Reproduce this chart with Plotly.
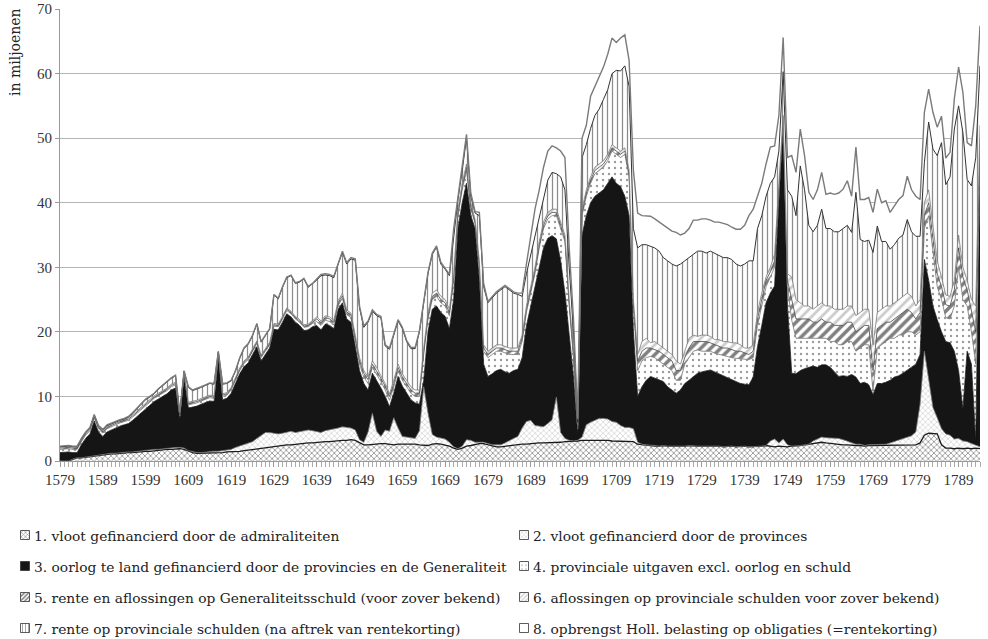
import plotly.graph_objects as go

years = list(range(1579, 1795))

# 1. vloot gefinancierd door de admiraliteiten
vloot_admiraliteiten = [
    0, 0, 0, 0.3, 0.5, 0.5, 0.6, 0.7, 0.8, 0.9,
    1.0, 1.0, 1.1, 1.1, 1.2, 1.2, 1.3, 1.3, 1.4, 1.4,
    1.5, 1.5, 1.6, 1.6, 1.7, 1.8, 1.8, 1.9, 1.9, 1.8,
    1.5, 1.3, 1.2, 1.2, 1.2, 1.2, 1.3, 1.3, 1.3, 1.4,
    1.4, 1.5, 1.5, 1.6, 1.7, 1.8, 1.9, 2.0, 2.1, 2.2,
    2.3, 2.3, 2.4, 2.5, 2.5, 2.6, 2.7, 2.7, 2.8, 2.8,
    2.9, 2.9, 3.0, 3.0, 3.1, 3.1, 3.2, 3.2, 3.3, 3.2,
    2.8, 2.5, 2.5, 2.6, 2.6, 2.7, 2.7, 2.6, 2.5, 2.6,
    2.6, 2.7, 2.7, 2.6, 2.5, 2.5, 2.4, 2.6, 2.7, 2.6,
    2.5, 2.3, 2.0, 1.8, 2.0, 2.3, 2.4, 2.6, 2.7, 2.7,
    2.5, 2.3, 2.2, 2.2, 2.3, 2.4, 2.5, 2.6, 2.6, 2.6,
    2.7, 2.7, 2.8, 2.8, 2.8, 2.9, 2.9, 2.9, 3.0, 3.0,
    3.0, 3.1, 3.2, 3.2, 3.2, 3.3, 3.3, 3.2, 3.2, 3.1,
    3.1, 3.0, 3.0, 3.0, 3.0, 2.6, 2.5, 2.4, 2.4, 2.3,
    2.3, 2.4, 2.3, 2.3, 2.2, 2.3, 2.3, 2.4, 2.3, 2.3,
    2.3, 2.3, 2.4, 2.3, 2.3, 2.2, 2.3, 2.3, 2.2, 2.3,
    2.3, 2.2, 2.2, 2.3, 2.3, 2.4, 2.3, 2.2, 2.3, 2.2,
    2.2, 2.3, 2.3, 2.4, 2.5, 2.6, 2.8, 2.8, 2.9, 2.8,
    2.7, 2.6, 2.6, 2.5, 2.5, 2.4, 2.4, 2.4, 2.3, 2.4,
    2.4, 2.4, 2.4, 2.4, 2.5, 2.5, 2.5, 2.4, 2.4, 2.4,
    2.5, 2.8, 4.0, 4.3, 4.3, 4.2, 2.5, 2.0, 2.0, 1.9,
    2.0, 1.9, 2.0, 1.9, 2.0, 1.9,
]

# 2. vloot gefinancierd door de provinces
vloot_provincies = [
    0, 0, 0, 0, 0, 0, 0, 0, 0, 0,
    0.1, 0.1, 0.1, 0.1, 0.1, 0.1, 0.1, 0.1, 0.1, 0.1,
    0.2, 0.2, 0.2, 0.2, 0.2, 0.2, 0.2, 0.2, 0.2, 0.2,
    0.1, 0.1, 0.1, 0.1, 0.2, 0.2, 0.2, 0.2, 0.3, 0.3,
    0.4, 0.6, 0.8, 1.0, 1.1, 1.2, 1.6, 1.9, 2.3, 2.2,
    2.0, 1.9, 1.9, 2.0, 2.1, 1.8, 1.8, 1.9, 2.0, 1.9,
    1.6, 1.5, 1.7, 1.8, 1.8, 2.0, 2.1, 2.0, 1.8, 1.6,
    0.5, 0.4, 2.0, 4.8, 2.0, 1.1, 2.1, 2.0, 4.2, 2.5,
    1.2, 1.0, 0.9, 0.9, 2.2, 9.0, 5.0, 1.5, 1.0, 0.9,
    0.9, 0.6, 0.2, 0.1, 0.3, 1.0, 0.8, 0.3, 0.2, 0.2,
    0.2, 0.2, 0.3, 0.3, 0.5, 0.8, 1.0, 1.2, 2.5, 3.5,
    3.6, 2.8, 2.6, 2.5, 3.0, 3.5, 7.0, 1.5, 0.5, 0.2,
    0.1, 0.1, 0.5, 2.4, 2.8, 3.0, 3.3, 3.4, 3.3, 3.0,
    2.9, 2.5, 2.2, 2.2, 2.0, 0.3, 0.1, 0.1, 0.1, 0.1,
    0, 0, 0, 0, 0, 0, 0, 0, 0, 0,
    0, 0, 0, 0, 0, 0, 0, 0, 0, 0,
    0, 0, 0, 0, 0, 0, 0.8, 1.2, 0.5, 1.2,
    0.3, 0, 0, 0, 0, 0, 0.3, 0.6, 0.8, 0.8,
    0.9, 1.0, 0.9, 0.8, 0.6, 0.4, 0.2, 0.2, 0.1, 0.1,
    0.1, 0.1, 0.1, 0.2, 0.3, 0.5, 0.8, 1.0, 1.3, 1.5,
    2.0, 6.0, 13.0, 8.0, 4.0, 2.5, 2.5, 2.2, 2.0, 1.5,
    1.5, 1.2, 1.0, 0.8, 0.5, 0.3,
]

# 3. oorlog te land gefinancierd door de provincies en de Generaliteit
oorlog_te_land = [
    1.3, 1.4, 1.4, 1.0, 0.8, 2.0, 2.9, 3.5, 5.4, 3.6,
    2.7, 3.4, 3.6, 4.0, 4.1, 4.3, 4.4, 4.9, 5.4, 6.0,
    6.3, 7.0, 7.4, 7.8, 8.1, 8.4, 9.0, 9.2, 4.4, 11.0,
    6.6, 6.9, 7.2, 7.5, 7.6, 7.9, 7.7, 14.5, 7.9, 8.0,
    8.7, 9.9, 11.2, 12.0, 12.4, 13.5, 14.2, 11.6, 12.1, 13.1,
    16.1, 16.1, 17.2, 18.3, 17.7, 17.1, 16.5, 15.6, 15.5, 16.1,
    16.5, 15.9, 16.5, 16.2, 15.6, 18.4, 19.2, 16.8, 16.4, 13.2,
    10.7, 9.1, 6.5, 6.2, 7.9, 7.5, 5.2, 3.8, 3.8, 8.0,
    7.8, 6.8, 5.9, 5.5, 4.1, 1.0, 12.6, 19.4, 20.3, 19.5,
    19.0, 17.6, 22.8, 34.1, 37.7, 39.7, 34.8, 33.1, 25.1, 12.1,
    10.4, 11.0, 11.5, 11.7, 11.0, 10.4, 10.5, 10.4, 10.9, 14.8,
    17.7, 21.1, 24.6, 27.7, 28.7, 28.5, 24.5, 26.6, 22.5, 15.8,
    9.9, 0.8, 31.3, 32.4, 34.0, 34.7, 34.9, 35.4, 36.5, 37.9,
    37.0, 37.0, 35.8, 32.8, 15.0, 7.1, 8.9, 10.0, 10.6, 10.4,
    10.2, 9.9, 9.2, 8.7, 8.3, 8.7, 9.7, 10.1, 10.7, 11.3,
    11.5, 11.7, 11.7, 11.5, 11.2, 10.9, 10.5, 10.2, 10.1, 9.7,
    9.6, 9.6, 10.8, 15.4, 18.7, 22.1, 22.9, 23.7, 37.2, 48.6,
    21.5, 11.3, 11.2, 11.6, 11.8, 11.9, 11.6, 11.1, 11.2, 11.3,
    10.9, 10.2, 9.6, 9.9, 10.0, 10.6, 10.4, 9.4, 9.8, 9.3,
    7.8, 9.5, 9.5, 9.6, 9.7, 10.0, 9.9, 10.2, 10.4, 10.6,
    10.5, 7.7, 14.2, 15.7, 15.7, 15.2, 15.0, 14.3, 14.3, 13.6,
    10.5, 4.9, 14.0, 12.3, 0.5, 42.8,
]

# 4. provinciale uitgaven excl. oorlog en schuld
provinciale_uitgaven = [
    0.5, 0.5, 0.5, 0.5, 0.5, 0.5, 0.5, 0.5, 0.5, 0.5,
    0.5, 0.5, 0.5, 0.5, 0.5, 0.5, 0.5, 0.5, 0.5, 0.5,
    0.5, 0.5, 0.5, 0.5, 0.5, 0.5, 0.5, 0.5, 0.5, 0.5,
    0.5, 0.5, 0.5, 0.5, 0.5, 0.5, 0.5, 0.5, 0.5, 0.5,
    0.5, 0.5, 0.5, 0.5, 0.5, 0.5, 0.5, 0.5, 0.5, 0.5,
    0.5, 0.5, 0.5, 0.5, 0.5, 0.5, 0.5, 0.5, 0.5, 0.5,
    0.6, 0.7, 0.6, 0.6, 0.6, 0.6, 0.7, 0.7, 0.7, 0.7,
    1.0, 1.0, 1.0, 0.9, 1.0, 1.0, 1.0, 1.0, 1.0, 0.9,
    0.9, 1.0, 1.0, 1.0, 1.2, 4.0, 2.0, 1.5, 1.5, 1.5,
    1.6, 2.0, 3.0, 2.0, 2.0, 2.0, 1.0, 0.8, 2.0, 2.0,
    2.9, 3.0, 3.0, 2.8, 3.0, 2.9, 2.5, 2.3, 2.5, 2.1,
    2.0, 2.4, 3.0, 3.0, 3.0, 3.1, 3.6, 5.0, 8.0, 5.0,
    3.0, 1.0, 3.0, 3.0, 3.0, 3.5, 3.5, 3.5, 3.5, 4.0,
    4.5, 4.5, 6.5, 6.0, 4.0, 4.0, 4.0, 3.5, 3.1, 3.2,
    3.0, 2.7, 3.0, 3.0, 2.0, 1.5, 3.0, 3.5, 4.0, 3.6,
    3.2, 3.0, 2.9, 2.9, 3.0, 3.2, 3.4, 3.5, 3.6, 3.8,
    3.8, 3.9, 3.0, 3.3, 3.0, 2.5, 2.5, 2.9, 2.0, 1.0,
    3.0, 8.2, 5.5, 5.0, 4.7, 4.5, 4.3, 4.5, 4.1, 4.1,
    4.0, 4.7, 4.9, 4.8, 5.4, 5.1, 4.0, 5.5, 5.8, 6.2,
    0.5, 5.5, 6.0, 6.3, 6.5, 6.0, 6.3, 5.9, 5.9, 5.5,
    4.5, 3.5, 4.8, 10.0, 8.0, 5.1, 5.0, 3.7, 3.7, 7.0,
    16.0, 17.0, 7.0, 5.0, 12.0, 3.0,
]

# 5. rente en aflossingen op Generaliteitsschuld
generaliteitsschuld = [
    0.2, 0.2, 0.2, 0.2, 0.2, 0.2, 0.2, 0.2, 0.2, 0.2,
    0.2, 0.2, 0.2, 0.2, 0.2, 0.2, 0.2, 0.2, 0.2, 0.2,
    0.2, 0.2, 0.2, 0.2, 0.2, 0.2, 0.2, 0.2, 0.2, 0.2,
    0.2, 0.2, 0.2, 0.2, 0.2, 0.2, 0.2, 0.2, 0.2, 0.2,
    0.2, 0.2, 0.2, 0.2, 0.2, 0.2, 0.2, 0.2, 0.2, 0.2,
    0.2, 0.2, 0.2, 0.2, 0.2, 0.2, 0.2, 0.2, 0.2, 0.2,
    0.4, 0.4, 0.4, 0.4, 0.4, 0.4, 0.4, 0.4, 0.4, 0.4,
    0.5, 0.6, 0.6, 0.5, 0.5, 0.5, 0.6, 0.6, 0.5, 0.5,
    0.5, 0.5, 0.5, 0.5, 0.5, 0.5, 0.5, 0.5, 0.5, 0.5,
    0.5, 0.5, 0.5, 0.5, 0.5, 0.5, 0.5, 0.3, 0.5, 0.5,
    0.5, 0.5, 0.5, 0.5, 0.5, 0.5, 0.5, 0.5, 0.5, 0.5,
    0.5, 0.5, 0.5, 0.5, 0.5, 0.5, 0.5, 0.5, 0.5, 0.5,
    0.5, 0.2, 0.5, 0.5, 0.5, 0.5, 0.5, 0.5, 0.5, 0.5,
    0.5, 0.5, 0.5, 0.5, 0.5, 1.5, 1.5, 1.5, 1.3, 1.3,
    1.5, 1.5, 1.5, 1.5, 1.5, 1.5, 1.0, 1.5, 1.5, 1.3,
    1.5, 1.5, 1.3, 1.3, 1.3, 1.2, 1.3, 1.3, 1.1, 1.2,
    1.1, 0.8, 1.0, 1.0, 1.0, 1.0, 0.8, 1.0, 0.5, 0.3,
    1.0, 3.2, 3.0, 3.0, 3.0, 3.0, 2.5, 2.5, 3.0, 2.5,
    3.0, 2.5, 3.0, 3.0, 3.0, 3.0, 3.0, 3.0, 3.0, 3.0,
    3.2, 3.0, 3.0, 3.0, 2.5, 3.0, 3.0, 3.5, 3.5, 3.0,
    2.5, 3.0, 2.0, 2.0, 2.5, 2.0, 2.0, 2.0, 2.0, 2.5,
    3.0, 3.5, 2.5, 3.0, 5.0, 2.0,
]

# 6. aflossingen op provinciale schulden
aflossingen_provinciaal = [
    0.2, 0.2, 0.2, 0.2, 0.2, 0.2, 0.2, 0.2, 0.2, 0.2,
    0.2, 0.2, 0.2, 0.2, 0.2, 0.2, 0.2, 0.2, 0.2, 0.2,
    0.2, 0.2, 0.2, 0.2, 0.2, 0.2, 0.2, 0.2, 0.2, 0.2,
    0.2, 0.2, 0.2, 0.2, 0.2, 0.2, 0.2, 0.2, 0.2, 0.2,
    0.2, 0.2, 0.2, 0.2, 0.2, 0.2, 0.2, 0.2, 0.2, 0.2,
    0.2, 0.2, 0.2, 0.2, 0.2, 0.2, 0.2, 0.2, 0.2, 0.2,
    0.3, 0.3, 0.3, 0.3, 0.3, 0.3, 0.4, 0.3, 0.3, 0.4,
    0.5, 0.4, 0.4, 0.5, 0.5, 0.4, 0.4, 0.4, 0.5, 0.5,
    0.5, 0.5, 0.5, 0.5, 0.5, 0.5, 0.5, 0.5, 0.5, 0.5,
    0.5, 0.5, 0.5, 0.5, 0.5, 0.5, 0.5, 0.3, 0.5, 0.5,
    0.5, 0.5, 0.5, 0.5, 0.5, 0.5, 0.5, 0.5, 0.5, 0.5,
    0.5, 0.5, 0.5, 0.5, 0.5, 0.5, 0.5, 0.5, 0.5, 0.5,
    0.5, 0.3, 0.5, 0.5, 0.5, 0.5, 0.5, 0.5, 0.5, 0.5,
    0.5, 0.5, 0.5, 0.5, 0.5, 1.0, 1.5, 1.5, 0.8, 1.2,
    1.0, 1.0, 1.0, 1.0, 1.5, 1.0, 1.0, 1.5, 1.0, 0.8,
    1.0, 1.0, 1.0, 0.8, 1.0, 1.0, 1.0, 1.0, 1.3, 1.0,
    0.7, 1.0, 1.0, 1.0, 1.0, 0.5, 0.7, 1.0, 0.5, 0.2,
    1.0, 3.5, 3.0, 2.5, 2.0, 2.0, 2.0, 2.5, 2.5, 2.5,
    2.5, 2.5, 2.5, 2.5, 2.5, 2.5, 2.5, 2.5, 2.5, 2.5,
    4.0, 2.5, 2.5, 2.5, 2.5, 2.5, 2.5, 2.5, 2.5, 2.5,
    2.0, 2.0, 2.0, 2.0, 1.5, 2.0, 1.5, 1.5, 1.5, 1.5,
    2.0, 1.5, 1.5, 2.0, 4.0, 2.0,
]

# 7. rente op provinciale schulden (na aftrek van rentekorting)
rente_provinciaal = [
    0, 0, 0, 0, 0, 0, 0, 0, 0, 0,
    0.1, 0.1, 0.1, 0, 0, 0, 0.1, 0.2, 0.3, 0.4,
    0.6, 0.3, 0.3, 0.6, 0.8, 0.9, 0.9, 1.0, 0, 0,
    2.3, 1.7, 1.7, 1.7, 1.8, 1.8, 1.8, 0, 1.5, 1.4,
    1.0, 1.0, 1.5, 1.9, 2.0, 2.0, 2.6, 2.0, 2.0, 2.0,
    4.4, 3.9, 4.5, 4.7, 5.5, 5.1, 5.8, 7.1, 5.7, 5.7,
    5.7, 7.0, 6.3, 6.4, 6.6, 5.7, 6.3, 7.1, 8.4, 11.6,
    7.7, 6.7, 8.5, 7.7, 8.0, 9.0, 5.8, 6.9, 7.0, 6.7,
    7.0, 6.0, 5.9, 6.4, 9.0, 6.9, 6.0, 6.0, 6.6, 5.0,
    4.7, 5.2, 6.0, 1.5, 2.0, 4.0, 1.0, 1.0, 7.0, 9.0,
    7.5, 7.8, 8.0, 8.5, 9.2, 9.0, 8.5, 8.3, 6.0, 5.0,
    5.0, 5.0, 4.0, 4.0, 5.0, 5.7, 5.5, 7.0, 7.0, 5.0,
    3.0, 0.5, 8.0, 7.0, 7.5, 8.0, 8.5, 9.5, 10.0, 11.0,
    12.0, 12.4, 12.7, 13.0, 11.0, 16.5, 15.0, 14.5, 15.0, 14.5,
    14.5, 14.0, 14.0, 14.0, 14.7, 15.5, 14.0, 12.5, 12.5, 13.2,
    13.0, 12.7, 13.2, 13.4, 13.0, 13.0, 13.0, 12.9, 12.2, 12.2,
    13.0, 13.5, 13.0, 13.0, 12.0, 12.5, 13.0, 12.0, 5.0, 6.8,
    13.0, 12.5, 13.0, 21.2, 18.0, 12.5, 12.0, 12.5, 14.5, 12.0,
    12.0, 12.0, 12.0, 12.5, 12.5, 11.4, 19.1, 11.3, 10.5, 10.7,
    14.3, 13.4, 10.5, 10.0, 8.8, 9.0, 9.5, 9.5, 11.4, 10.0,
    10.8, 9.8, 6.2, 10.5, 12.3, 16.3, 20.8, 17.1, 18.5, 23.4,
    20.0, 20.9, 15.6, 17.6, 23.0, 9.2,
]

# 8. opbrengst Holl. belasting op obligaties (=rentekorting)
rentekorting = [
    0.1, 0.1, 0.1, 0.1, 0.1, 0.1, 0.1, 0.1, 0.1, 0.1,
    0.1, 0.1, 0.1, 0.1, 0.1, 0.1, 0.1, 0.1, 0.1, 0.1,
    0.1, 0.1, 0.1, 0.1, 0.1, 0.1, 0.1, 0.1, 0.1, 0.1,
    0.1, 0.1, 0.1, 0.1, 0.1, 0.1, 0.1, 0.1, 0.1, 0.1,
    0.1, 0.1, 0.1, 0.1, 0.1, 0.1, 0.1, 0.1, 0.1, 0.1,
    0.1, 0.1, 0.1, 0.1, 0.1, 0.1, 0.1, 0.1, 0.1, 0.1,
    0.2, 0.2, 0.2, 0.2, 0.2, 0.2, 0.2, 0.2, 0.2, 0.2,
    0.3, 0.2, 0.2, 0.2, 0.2, 0.2, 0.2, 0.2, 0.2, 0.2,
    0.2, 0.2, 0.2, 0.2, 0.2, 0.2, 0.2, 0.2, 0.2, 0.3,
    0.2, 0.2, 1.0, 0.5, 1.0, 0.6, 0.5, 0.2, 0.5, 0.5,
    0.2, 0.2, 0.2, 0.2, 0.2, 0.2, 0.2, 0.2, 0.5, 1.5,
    2.5, 4.0, 4.0, 4.5, 4.5, 4.1, 4.0, 4.0, 5.0, 3.0,
    2.0, 0.5, 3.0, 3.0, 5.0, 4.5, 5.0, 5.0, 5.5, 5.5,
    4.3, 5.1, 4.8, 4.0, 9.0, 5.4, 4.5, 4.5, 4.6, 4.5,
    4.5, 5.0, 5.0, 5.1, 5.2, 4.5, 4.3, 4.5, 5.3, 4.8,
    5.0, 5.3, 4.8, 4.8, 5.2, 5.3, 5.1, 5.0, 5.4, 5.7,
    6.0, 7.0, 8.0, 5.0, 5.0, 5.0, 5.6, 4.8, 5.5, 5.3,
    5.0, 6.3, 6.7, 5.7, 5.3, 5.1, 5.0, 5.5, 5.7, 5.3,
    5.5, 5.8, 6.0, 6.1, 6.9, 5.6, 7.0, 6.2, 6.5, 6.6,
    6.2, 5.7, 6.0, 6.3, 5.7, 6.0, 6.0, 6.1, 6.7, 6.5,
    6.2, 5.7, 7.8, 5.1, 5.7, 4.4, 4.1, 4.1, 3.8, 4.7,
    6.0, 6.2, 5.7, 6.2, 8.0, 6.2,
]

legend_labels = [
    "1. vloot gefinancierd door de admiraliteiten",
    "2. vloot gefinancierd door de provinces",
    "3. oorlog te land gefinancierd door de provincies en de Generaliteit",
    "4. provinciale uitgaven excl. oorlog en schuld",
    "5. rente en aflossingen op Generaliteitsschuld (voor zover bekend)",
    "6. aflossingen op provinciale schulden voor zover bekend)",
    "7. rente op provinciale schulden (na aftrek van rentekorting)",
    "8. opbrengst Holl. belasting op obligaties (=rentekorting)",
]

x_tick_years = [1579, 1589, 1599, 1609, 1619, 1629, 1639, 1649, 1659, 1669, 1679,
                1689, 1699, 1709, 1719, 1729, 1739, 1749, 1759, 1769, 1779, 1789]
y_ticks = [0, 10, 20, 30, 40, 50, 60, 70]

series = [vloot_admiraliteiten, vloot_provincies, oorlog_te_land, provinciale_uitgaven,
          generaliteitsschuld, aflossingen_provinciaal, rente_provinciaal, rentekorting]
for s in series:
    assert len(s) == len(years), len(s)

# styles (bottom -> top)
styles = [
    dict(pattern=dict(shape="x", fgcolor="#333", bgcolor="white", size=4, solidity=0.4),
         fill="white", line=dict(color="#1a1a1a", width=1.3)),
    dict(pattern=dict(shape="x", fgcolor="#9a9a9a", bgcolor="white", size=4, solidity=0.3),
         fill="white", line=dict(color="#777", width=0.8)),
    dict(pattern=None, fill="#151515", line=dict(color="#111", width=0.8)),
    dict(pattern=dict(shape=".", fgcolor="#333", bgcolor="white", size=6, solidity=0.12),
         fill="white", line=dict(color="#777", width=0.8)),
    dict(pattern=dict(shape="/", fgcolor="#000", bgcolor="white", size=7, solidity=0.5),
         fill="white", line=dict(color="#444", width=0.8)),
    dict(pattern=dict(shape="/", fgcolor="#999", bgcolor="white", size=7, solidity=0.4),
         fill="white", line=dict(color="#777", width=0.8)),
    dict(pattern=dict(shape="|", fgcolor="#1a1a1a", bgcolor="white", size=5, solidity=0.25),
         fill="white", line=dict(color="#333", width=1.0)),
    dict(pattern=None, fill="white", line=dict(color="#7a7a7a", width=1.4)),
]

fig = go.Figure()
for vals, lab, st in zip(series, legend_labels, styles):
    kw = dict(x=years, y=vals, name=lab, mode="lines", stackgroup="one",
              line=dict(shape="linear", **st["line"]), fillcolor=st["fill"],
              showlegend=False, hoverinfo="skip")
    if st["pattern"]:
        kw["fillpattern"] = st["pattern"]
    fig.add_trace(go.Scatter(**kw))

# Figure fills the page (body margin removed in post_script)
W, H = 988, 639
rows_y = [535, 566, 597, 628]
col_sw = [25, 524]
col_tx = [32, 531]
half = 4.5
order = [(0, 0, 0), (1, 0, 1), (2, 1, 0), (3, 1, 1), (4, 2, 0), (5, 2, 1), (6, 3, 0), (7, 3, 1)]
LEG_FRAC = 0.2
for idx, r, c in order:
    cx, cy = col_sw[c], rows_y[r]
    st = styles[idx]
    kw = dict(x=[cx - half, cx + half, cx + half, cx - half, cx - half],
              y=[cy - half, cy - half, cy + half, cy + half, cy - half],
              mode="lines", fill="toself", fillcolor=st["fill"],
              line=dict(color="#333", width=0.8), xaxis="x2", yaxis="y2",
              showlegend=False, hoverinfo="skip")
    if st["pattern"]:
        p = dict(st["pattern"])
        p["size"] = 3 if p["shape"] != "." else 4
        kw["fillpattern"] = p
    fig.add_trace(go.Scatter(**kw))

LEG_FONT = dict(family="DejaVu Serif", size=13.8, color="#222")
annotations = []
for idx, r, c in order:
    annotations.append(dict(x=col_tx[c], y=rows_y[r] + 0.5, xref="x2", yref="y2",
                            text=legend_labels[idx], showarrow=False,
                            xanchor="left", yanchor="middle", font=LEG_FONT))
annotations.append(dict(x=15 / W, y=1 - 52 / H, xref="paper", yref="paper",
                        text="in miljoenen", textangle=-90, showarrow=False,
                        xanchor="center", yanchor="middle",
                        font=dict(family="DejaVu Serif", size=14, color="#222")))

TICK_FONT = dict(family="Liberation Serif", size=15, color="#333")
fig.update_layout(
    width=W, height=H,
    margin=dict(l=0, r=0, t=0, b=0),
    paper_bgcolor="white", plot_bgcolor="white",
    hovermode=False,
    annotations=annotations,
    xaxis=dict(domain=[60 / W, 980 / W], range=[1579, 1794], anchor="y",
               tickvals=x_tick_years, ticktext=[str(v) for v in x_tick_years],
               ticks="outside", ticklen=5, tickcolor="#999", tickwidth=1,
               minor=dict(dtick=1, tick0=1579, ticks="outside", ticklen=5,
                          tickcolor="#aaa", tickwidth=1, showgrid=False),
               showgrid=False, zeroline=False, showline=True, linecolor="#999", linewidth=1,
               tickfont=TICK_FONT, automargin=False),
    yaxis=dict(domain=[(H - 461) / H, (H - 9) / H], range=[0, 70], anchor="x",
               tickvals=y_ticks, ticktext=[str(v) for v in y_ticks],
               ticks="outside", ticklen=4, tickcolor="#999",
               showgrid=True, gridcolor="#b5b5b5", gridwidth=1,
               zeroline=False, showline=True, linecolor="#999", linewidth=1,
               tickfont=TICK_FONT, automargin=False, layer="below traces"),
    xaxis2=dict(domain=[0, 1], range=[0, W], anchor="y2", visible=False, fixedrange=True),
    yaxis2=dict(domain=[0, LEG_FRAC], range=[H, H - LEG_FRAC * H], anchor="x2",
                visible=False, fixedrange=True),
)

fig.write_html("out.html",
               config={"displayModeBar": False, "staticPlot": True},
               post_script="document.body.style.margin='0px';"
                           "document.body.style.overflow='hidden';")
